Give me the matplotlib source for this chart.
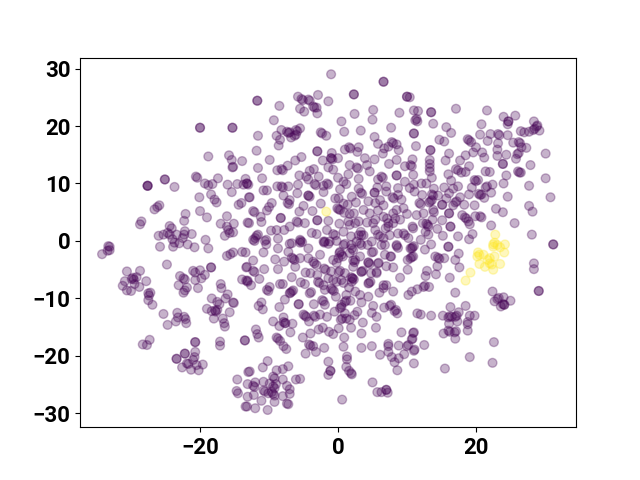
import numpy as np
import matplotlib
matplotlib.use("Agg")
import matplotlib.pyplot as plt

plt.rcParams['font.family'] = ['Roboto', 'DejaVu Sans']

upper_left = [(-20,19.7),(-20,19.7),(-15.3,19.7),(-15.3,19.7),(-18.8,14.7),(-15.8,14.9),(-15.4,14.1),(-15.3,12.8),(-15.2,12.9),(-13.9,13.9),
(-20.6,11.2),(-20.4,11),(-25.1,10.7),(-25.1,10.7),(-27.6,9.6),(-27.6,9.6),(-27.6,9.6),(-23.7,9.4),(-19.3,10),(-18.8,9.7),(-18.2,9.9),(-17.4,10.9),
(-16,9.8),(-14.6,9.9),(-13.7,9.8),(-13.4,10.8),(-13.2,10),(-15.4,8.5),(-18.4,8.1),(-20.1,7.6),(-17.9,7.2),(-17.6,6.7),(-12.9,7.6),(-14,6.6),(-14.4,6.3),
(-25.9,6.2),(-26.2,5.9),(-26.6,5.5),(-20,5.2),(-19,4.1),(-22.1,4.7),(-22.3,3.5),(-28.5,3.4),(-28.7,2.9),(-16.1,4.3),(-17,3),(-15.1,3),(-13.1,3.2),
(-24.4,2.6),(-24.1,2.2),(-16.1,2.5),(-15.9,1.9),(-15.2,1.5),(-15.7,1.4),(-16.4,.9),(-26,.9),(-25.3,1.1),(-24.7,1.4),(-24.4,1.1),(-23.4,1.1),(-22.2,1.7),
(-21.2,1.2),(-22.3,1.1),(-22.5,.5),(-24,.3),(-23.7,-.3),(-23,-.4),(-21.8,-.6),(-19.2,.2),(-20.8,-1.1),(-18.8,-1.3),(-25.8,-1),(-23.9,-1),(-33.3,-.9),(-33.1,-1)]

lower_left = [(-33.4,-1.7),(-33.1,-1.6),(-34.2,-2.3),(-16.1,-2.6),(-15.6,-2.3),(-15.2,-2),(-13.9,-1.9),(-13.4,-2),(-13.3,-4.6),(-24.8,-4.1),(-18.4,-4.6),(-18.4,-4.6),
(-30.6,-5.3),(-28.7,-5.2),(-21,-5.2),(-20.7,-5.5),(-20,-5.1),(-19.3,-5.9),(-22.9,-6.1),(-22.4,-6.5),(-22.2,-6.7),(-29.2,-6.3),(-29.9,-6.6),(-29.7,-6.4),(-29.6,-6.7),
(-30.9,-7),(-27.8,-7),(-20.7,-6.8),(-19.8,-6.5),(-13.9,-6.7),(-13.3,-6.9),(-13.1,-7.1),(-29.5,-7.5),(-28.8,-8),(-31.2,-7.8),(-30.6,-8.6),(-30,-8.7),(-23.1,-7.7),
(-21.9,-8.1),(-22.2,-8.6),(-22.4,-9),(-20.3,-8.2),(-17,-7.5),(-16.9,-8.2),(-27.2,-9),(-27.5,-9.1),(-27.4,-9.5),(-27.5,-10.3),(-26.9,-11.1),(-18.3,-10),(-16,-9.3),
(-16.3,-10),(-17.5,-10.6),(-17.2,-11),(-15.2,-10.7),(-15.1,-10.8),(-19,-11.8),(-18.3,-12.2),(-17.8,-12.1),(-17.7,-12.3),(-17.5,-12),(-15.7,-12.4),(-25.3,-12.7),
(-23.3,-12.5),(-23.2,-13.3),(-22.3,-13.2),(-22.1,-13.6),(-22,-14.3),(-23.5,-14),(-24.7,-14.6),(-18,-13.5),(-16.7,-13.5),(-16.5,-14.3),(-16.4,-14.9),(-27.3,-17.2),
(-28.3,-18),(-27.7,-18.1),(-20.7,-17.6),(-20.7,-17.6),(-17.1,-17.5),(-17.1,-18.2),(-13.5,-17.3),(-13.5,-17.3),(-20.7,-19.3),(-22.2,-19.6),(-22.2,-19.6),
(-23.4,-20.5),(-23.4,-20.5),(-20.8,-20.2),(-21,-20.7),(-21.9,-21.3),(-21.7,-21.4),(-19.6,-21.5),(-20.5,-21.6),(-22.6,-22),(-21.3,-22.4),(-20.2,-22.5),
(-14.6,-24.1),(-14.7,-26.1),(-14.5,-26.5),(-13.4,-28.8)]

bottom_cluster = [(-13,-22.8),(-12.8,-22.7),(-10.9,-22),(-10.2,-20.9),(-8.9,-22.5),(-8,-22.3),(-7.2,-21.8),(-9.4,-23.6),(-9.2,-23.9),(-12,-24.6),(-8,-24.1),(-6.1,-24.1),(-5.5,-24),
(-13.1,-24.9),(-12.3,-25.2),(-12.1,-25.4),(-10.8,-24.5),(-9.9,-24.8),(-9,-24.9),(-9.4,-25.3),(-9.2,-25.6),(-7.4,-25.2),(-7,-25.8),(-7,-26.6),(-8,-27),(-10.6,-26.2),(-10.8,-26),
(-10.1,-26.5),(-9.4,-26.6),(-9.6,-26.3),(-9.2,-26.9),(-12.2,-26.8),(-13.1,-27.1),(-11.1,-27.8),(-9.2,-28),(-7.4,-28.3),(-7.2,-28.4),(-13.2,-28.8),(-12,-29.1),(-10.2,-29.4)]

lower_mid = [(-11.9,-15.4),(-11.7,-16.2),(-11.5,-16.8),(-9.4,-14),(-8.5,-14.8),(-7.9,-13.3),(-7.9,-14.1),(-7.7,-14.3),(-7.6,-14.3),(-6.6,-14.4),(-6.9,-15.9),(-8.9,-16.8),(-8.7,-17),
(-8.4,-17.4),(-7.9,-18.3),(-7.5,-18.8),(-5.1,-16.8),(-4,-16.1),(-4.2,-18),(-4,-18.2),(-3.6,-18.3),(-3.2,-19.3),(-2,-18.6),(-4.7,-19.6),(-2.2,-15.1),(-2.8,-15.4),(-1.3,-15.8),(-.7,-16.2),
(.1,-15.2),(1.9,-15.1),(.9,-16.8),(.8,-18.4),(3.4,-16.1),(5.5,-15.1),(3.4,-18.6),(4.9,-18.3),(1.3,-20.1),(1.3,-20.6),(1.2,-21.9),(-1.4,-21),(-1.1,-22.6),(-1.1,-22.6),(-1.4,-23.3),
(1.6,-22.6),(1.9,-23),(2,-23.2),(5,-24.6),(5.7,-26.3),(6.3,-26.3),(7,-25.9),(7,-25.9),(7.2,-26.4),(.6,-27.6),(6.1,-19.8),(7.3,-17.9),(7.3,-18.3),(7.3,-19.3),(7.8,-20.2),(8.2,-21.1),
(8.6,-22.5),(8.8,-20.4),(9.6,-19.7),(8.8,-18.2),(10,-18.3),(10.2,-18.1),(10.7,-17.1),(9.2,-15.9),(10.9,-16),(11,-19.1),(11,-21.3)]

center_low = [(-12.1,0),(-10.4,-.6),(-10.8,-2),(-8.7,-1.3),(-7,-.5),(-5.5,-.3),(-4.3,-1.3),(-7.2,-1.9),(-6.5,-3.1),(-6.3,-3.3),(-6.7,-2.9),(-9.1,-3.2),(-7.8,-3.6),(-6.2,-4.5),(-5.5,-3),(-4.3,-3),
(-3.6,-3.6),(-3.4,-3.9),(-2.6,-2.4),(-2,-.3),(-1.4,-.5),(-.7,-3.3),(.5,-2.4),(.7,-2.7),(.2,-2.1),(1,-.5),(2,-1.3),(3.4,-.7),(4.9,-2),(6.3,-.7),(8.5,-.9),(8.7,-1.2),(7.6,-2.7),(10.5,-1.3),
(10.5,-3),(10.7,-2.8),(3.2,-2.7),(2.2,-3.4),(2.4,-3.7),(4.4,-3.8),(4.6,-4),(5.9,-3.8),(7,-4.4),(8,-4.6),(10.1,-5),(5.6,-5.4),(4.8,-5.6),(3.4,-5.4),(3.6,-5.2),(1,-5.6),(.1,-5.4),(.3,-5.2),
(-1,-5.3),(-2,-4.8),(-1.8,-5),(-3.1,-4.2),(-.2,-3.8),(-4.7,-5.5),(-4,-5.6),(-3,-5.9),(-8.7,-4.9),(-10.7,-4.9),(-12.3,-3.4),(-13.2,-4.5),(-12.3,-5.2),(-12.1,-5.4),(-11.4,-6.6),(-13.1,-6.9),
(-12.6,-7.7),(-9.9,-8),(-10.3,-8.5),(-10.1,-8.7),(-8.4,-7.5),(-8,-7.5),(-6.7,-6.3),(-5.4,-7.2),(-4.8,-7.5),(-6.7,-8.8),(-6.5,-8.6),(-6.9,-9),(-7,-9.1),(-7.7,-10.2),(-8.5,-11.5),(-11.1,-10.7),
(-11.5,-11.3),(-10.9,-11.9),(-5.7,-11),(-5.7,-11),(-4.1,-9.1),(-3.9,-8.9),(-2.9,-7.1),(-2.7,-7.3),(-2.1,-7.7),(-1.9,-8.5),(-.8,-8.5),(-.6,-8.7),(-1,-8.3),(-1.4,-6.5),(-.2,-7.1),(.8,-7.3),
(2.1,-6.5),(2.3,-6.7),(1.9,-6.3),(1.6,-8.1),(2.5,-8.8),(3.2,-9.4),(4.5,-7.3),(4.7,-7.1),(4.4,-9.7),(3.4,-10.7),(7,-7.7),(6.6,-8.2),(6,-9),(8,-8.8),(9,-6.4),(10.2,-9.4),(10.7,-8.8),(7.5,-11.3),(7.7,-11.1),
(6.7,-11.6),(8.2,-12.2),(8.4,-12),(8.6,-12.6),(5.1,-11.3),(4.9,-12.5),(5.6,-13.2),(-2.3,-10.3),(-2.1,-10.5),(-1.9,-11.1),(-3.5,-11),(-4.8,-13),(-4.6,-13.2),(-5,-12.8),(-3.5,-13),(-3.3,-13.2),(-4.2,-14),
(-2.6,-12.8),(-1.6,-13.2),(-.5,-12.3),(.3,-11.7),(.5,-11.5),(.5,-11.1),(-.3,-9.7),(1,-10.6),(1.2,-10.4),(1.8,-10.4),(1.2,-9.4),(1,-12.6),(.4,-13.7),(.6,-13.5),(1.2,-13.5),(1.7,-13.7),(2.4,-12.9),(2.8,-12.3),(3.6,-14.2)]

center_high = [(-1,29),(6.6,27.7),(6.6,27.7),(2.3,25.5),(2.3,25.5),(-11.7,24.4),(-11.7,24.4),(10,25.1),(10,25.1),(-5.8,25.1),(-5.3,24.7),(-5.1,24.5),(-4.3,24.6),(-4.1,24.4),(-2.9,25.4),(-1.4,24.3),
(-8.5,23.5),(-5.5,23),(-4.9,22.5),(-3.6,23.4),(-3.4,23.2),(-3.1,23.2),(-3,22.2),(-9.3,21),(2.4,22.1),(5.1,22.8),(5,21.1),(8.9,22.3),(.5,20.8),(.9,19),(3.3,19.2),(7.7,19.7),(-11.6,18.3),
(-8.2,19.3),(-7.4,19),(-7.2,18.8),(-7,18.9),(-6.1,19.3),(-5.9,19.1),(-5.5,19.6),(-6.3,18.3),(-6.1,18.5),(-6.8,18),(-8.9,18.3),(-8.4,17.6),(-8.6,16.6),(-2.5,18.9),(-2.3,18.7),(-1.7,18.3),(5.3,18.1),
(5.8,16.9),(7.8,17.2),(8,17),(7.3,16.4),(6.7,16.1),(8.5,16.8),(8.8,15.8),(-11.8,15.7),(-3,15.6),(-3,15.6),(1.6,16.3),(1.8,16.1),(1,15.9),(3,16.3),(2.8,15.5),(-.9,15.3),(-1,14.4),(-1,14.4),(-.8,14.2),
(0,14.4),(-2.2,14),(-5.3,14.6),(-6.2,14),(-9.9,14.1),(3.9,14.4),(5.3,14.2),(6.5,15.2),(8.5,14.1),(7.4,13.4),(10.5,13.2),(10.7,13),(9.7,13),(4.2,13.2),(1.7,13.2),(2.7,12.8),(2.9,12.6),(-1.4,12.8),(-.7,12.4),
(-7.3,13.1),(-8.2,12.5),(-8,12.3),(-8.8,12.3),(-11.6,12.7),(-3.5,12.5),(-4.1,12.2),(4.6,12.1),(1.5,11.6),(-5.6,11.4),(-4.6,11.2),(-4.3,10.7),(-2.8,11.2),(0,11),(8.5,11.4),(8.5,11.4),(6.3,11.2),(6.5,11),
(5.8,10.7),(3,10.8),(9.7,10.3),(-11,10.9),(-13.2,10),(-13,9.8),(-3.4,9.9),(-3.2,9.7),(-1.6,10),(-1.4,9.8),(-2.1,9.6),(.8,10.3),(1.2,9.9),(-5.8,9.8),(-7.2,9.5),(-8.2,9.5),(-8,9.3),(-8.8,9.5),(.3,9),(3,9.1),
(5.7,9.3),(7,9.5),(8.7,9.2),(10.4,9.2),(-10.8,8.8),(-10.3,8.8),(-2.1,8.5),(-4.3,7.9),(-4.3,7.9),(-4.1,7.7),(-5.9,8.3),(-7.9,7.9),(-12.8,7.6),(3.3,8.4),(3.5,8.2),(5.3,8.4),(5.3,8.4),(2,7.7),(-.4,7.4),
(.1,7.4),(7.9,7.6),(8.1,7.4),(7,8.6),(8.7,8),(-7,7.1),(-7.3,6.6),(-7.1,6.4),(-9.6,6.6),(-10,5.9),(-10.3,5.3),(-12.3,5.2),(-12.1,5),(-2.5,6.5),(-5,6.1),(-5.6,5.1),(-3.7,5.2),(.8,6.5),(1.4,6.3),(2.6,6.7),(4.4,6.9),
(5.4,6.6),(6.1,7.1),(6.6,6.2),(9.2,7.2),(-.1,5.7),(.1,5.5),(.3,5.4),(.9,4.9),(3.7,5.4),(5.8,5.3),(6.6,4.2),(8.5,5.4),(8,4.8),(9.5,5.7),(1.7,4.7),(2.3,4.8),(4.6,4.8),(10,4.7),(-11.2,4.2),(-11.1,3.3),(-12.9,3.1),
(-8.3,4),(-8.3,4),(-6,3.4),(-5.8,3.2),(-4.8,3.1),(-3,3.6),(-3,3.6),(-1.4,3.5),(.2,3),(1.5,3.4),(1.7,2.8),(2.5,3.1),(3,3.4),(4.2,3.2),(5.4,3.7),(5.1,3.1),(7.1,3.9),(7.3,3.1),(8.3,3.9),(9,3.7),(8,3.1),(-7,2.5),(-7.8,1.9),(-8.9,1.9),
(-9.7,1.8),(-1.6,1.9),(.8,1.6),(3.3,1.6),(3.7,1),(3,1),(5.4,1.9),(7.3,2.5),(6.9,2.2),(10.8,2.5),(-11.8,.9),(-12,.5),(-11.6,1.1),(-12.3,.2),(-10.6,0),(-10.4,.2),(-8.7,.4),(-6.7,-.4),(-5.4,0),(-5.5,.2),(-5.2,-.2),(-3.8,1.4),
(-3.1,1.2),(-1.9,-.1),(-2.1,-.1),(-1.2,-.1),(-.7,1.2),(-.4,1),(-.2,0),(1.9,.8),(3.4,1),(6.1,.8),(6.6,.5),(5.8,1.1),(4.9,-.1),(4.3,-.7),(3.2,-.4),(2.7,-.1),(1.9,-.7),(.8,-.7),(.3,-1.9),(2.2,-1.6),(1.7,-2.1),(.05,-3),(6.8,-.7),
(6.8,-2.4),(7.7,-2.7),(5.1,-1.9),(10.7,-1.3),(10.1,-3.3),(7.5,1),(8.7,1.3),(9.5,1.3),(9.7,1),(8.5,-.7),(10.2,.5),(5.8,-3.9),(4.4,-3.7),(2.5,-3.3),(2.2,-4.5),(3.4,-5.3),(5.6,-5.6),(2.1,-6.5),(2,-7.1),(4.4,-7.4),(-.7,-6.8),(.5,-6.8),(6.6,-7.7)]

right_high = [(10.4,25),(11,22.7),(11.6,22.6),(13.5,22.4),(13.5,22.4),(17.1,23),(21.6,22.7),(24,21.6),(25.7,21.8),(24.7,20.8),(24.7,20.8),(24.6,20.3),(28.4,20.8),(28.8,19.9),(28.9,20.1),(28.5,19.5),(28.3,19.3),
(29.2,19.2),(26.5,19.1),(27,18.9),(27.7,19),(11.4,21.2),(11.2,21),(11.5,20.8),(13.8,20.4),(20.8,20.3),(15.7,19.8),(16.4,18.8),(11,18.7),(11,18.7),(20.6,18.5),(22.1,18.6),(23.2,18.6),(23.4,18.4),(24.6,18.4),(14.7,17.6),
(15.4,17.3),(19,17.5),(18.8,17.7),(19.3,17.2),(21.7,17.4),(23.2,17),(25.4,17.1),(26.2,17.2),(26.4,17),(11.3,16.5),(26.6,16.3),(27.3,16.2),(13.4,15.8),(13.4,15.8),(20,16.3),(19.6,15.4),(20.9,15.4),(21.2,14.5),(23.1,15.9),
(23.1,14.8),(24.4,15),(16.1,15.2),(18.5,14.9),(17.7,14),(15.6,14),(26,15.1),(26.2,15.3),(25.8,14.3),(30.1,15.2),(10.8,14.2),(13.3,14.1),(13.3,13.4),(13.3,12.7),(13.3,12.1),(13.6,11),(23.9,13.4),(23.9,13.4),(27.9,13.2),(19,13),
(17.1,12.5),(17.4,12.3),(17.9,11.9),(18.5,12),(21.4,12.1),(22,12),(26.1,12.1),(26.3,11.9),(26.5,11.9),(16,11.6),(24.4,11.4),(30.1,10.9),(16.4,10.5),(19.8,10.6),(20,10.4),(20.3,10.6),(24,10),(27.7,9.6),(22.4,9.8),(21.6,9.5),(21.4,9.3),
(17.4,9.5),(15.4,9.3),(12.1,10),(12.8,10),(10.9,11.5),(11,9.8),(13.9,9.1),(19.4,9.3),(16.7,9.1),(11.1,8.6),(16.1,8.3),(13.6,8.1),(13.8,7.9),(14.5,7.9),(12.2,8),(19,8.1),(20.4,8.2),(20.6,8),(20.8,8.1),(22.2,8.4),(21.2,7.5),(24.6,7.7),
(30.8,7.6),(17.7,7.6),(15.7,7.4),(13.4,6.9),(13.6,7.1),(13.2,6.7),(11.8,6.6),(12,6.4),(17.2,6.9),(17,6.7),(16.7,6.2),(15.1,6.3),(15.1,6.3),(18.3,6.3),(19.8,6.2),(27.7,6.1),(28.2,5.1),(22.9,5.6),(23.9,5),(13.8,5.4),(13.9,5),(16.1,4.8),(16.1,4.8),
(12.4,4.8),(11.4,4.5),(18,4.5),(18.4,4.1),(18.6,3.9),(18.9,3.4),(19.1,2.9),(19.9,4.3),(20.6,4.3),(20.8,4.1),(15.1,3.6),(13.7,3.7),(12.8,3),(13,2.8),(12.3,3.1),(16.3,2.5),(16.3,2.5),(22.2,2.7),(25.6,3.1),(10.9,2.2),(13.1,2.5),(14.4,2.1),(12.7,1.6),
(13.1,1.1),(15.2,.9),(17.4,.8),(19.5,1.2),(28.1,1.1),(12,.2),(13.5,-.6),(16,-1),(16,-1),(19,.3),(31.2,-.6),(31.2,-.6)]

right_low = [(12.6,-1.5),(10.8,-1.1),(11,-.9),(17.5,-2.2),(14.1,-2.7),(14.5,-2.9),(14.7,-3.1),(15.4,-3),(17,-3.3),(10.9,-2.7),(17.6,-4.6),(14.4,-4.4),(12.9,-5.2),(12.7,-6.1),(14.2,-5.8),(16.2,-6.4),(28.4,-3.9),(28.4,-4.9),(29.1,-8.7),(29.1,-8.7),
(17,-9),(22.4,-8.8),(23.1,-10.1),(23.3,-9.9),(24,-9.8),(22.7,-10.5),(25,-10.4),(24.1,-11.1),(24.1,-11.1),(23.9,-11),(23.6,-11.4),(12.4,-8),(12.6,-7.8),(13.2,-8),(11.5,-8.4),(18.5,-11.3),(16.3,-11.5),(11.5,-12.6),(12,-12.8),(13.5,-13),(15.2,-13),(16,-13.3),(16.2,-13.1),
(16.5,-13.2),(17.2,-13),(17,-13.2),(17.5,-12.4),(19.1,-13),(19.8,-13),(16.1,-14.4),(17.3,-14),(18.8,-14.1),(18.8,-14.5),(18.8,-15.6),(15.3,-16.1),(16.2,-15.8),(16,-15.6),(16.9,-15.9),(17.1,-15.7),(17,-17),(11,-15.9),(10.8,-17),(12.5,-18.1),(11.1,-18.9),(22.6,-17.6),(19.1,-20.2),(22.4,-21.2),(15.5,-22.2)]

yellow_group = [(-1.7,5.1),(22.8,1.1),(22.5,-.6),(23.1,-.7),(22.7,-.3),(23.5,-1.1),(24.2,-.6),(22.5,-1),(24.1,-2),(20.3,-2),(20.2,-2.7),(20.5,-2.4),(21.1,-2.4),(22,-3),(21.7,-3.3),(22.7,-2.7),(22,-3.9),(22.3,-4.1),(20.5,-4),(23.5,-4),(21.3,-4.5),(22.5,-5),(19.2,-5.5),(18.5,-6.9)]

x_ticks = [-20, 0, 20]
y_ticks = [-30, -20, -10, 0, 10, 20, 30]

purple = np.array(upper_left + lower_left + bottom_cluster + lower_mid + center_low + center_high + right_high + right_low)
yellow = np.array(yellow_group)
xy = np.vstack([purple, yellow])
labels = np.r_[np.zeros(len(purple)), np.ones(len(yellow))]

fig, ax = plt.subplots(figsize=(6.4, 4.8), dpi=100)
ax.scatter(xy[:, 0], xy[:, 1], c=labels, cmap='viridis', alpha=0.3, s=40)
ax.set_xlim(-37.4, 34.5)
ax.set_ylim(-32.4, 31.9)
ax.set_xticks(x_ticks)
ax.set_yticks(y_ticks)
ax.set_xticklabels([str(v).replace('-', '\u2212') for v in x_ticks], fontsize=16, fontweight='bold')
ax.set_yticklabels([str(v).replace('-', '\u2212') for v in y_ticks], fontsize=16, fontweight='bold')
fig.savefig('out.png', dpi=100)
